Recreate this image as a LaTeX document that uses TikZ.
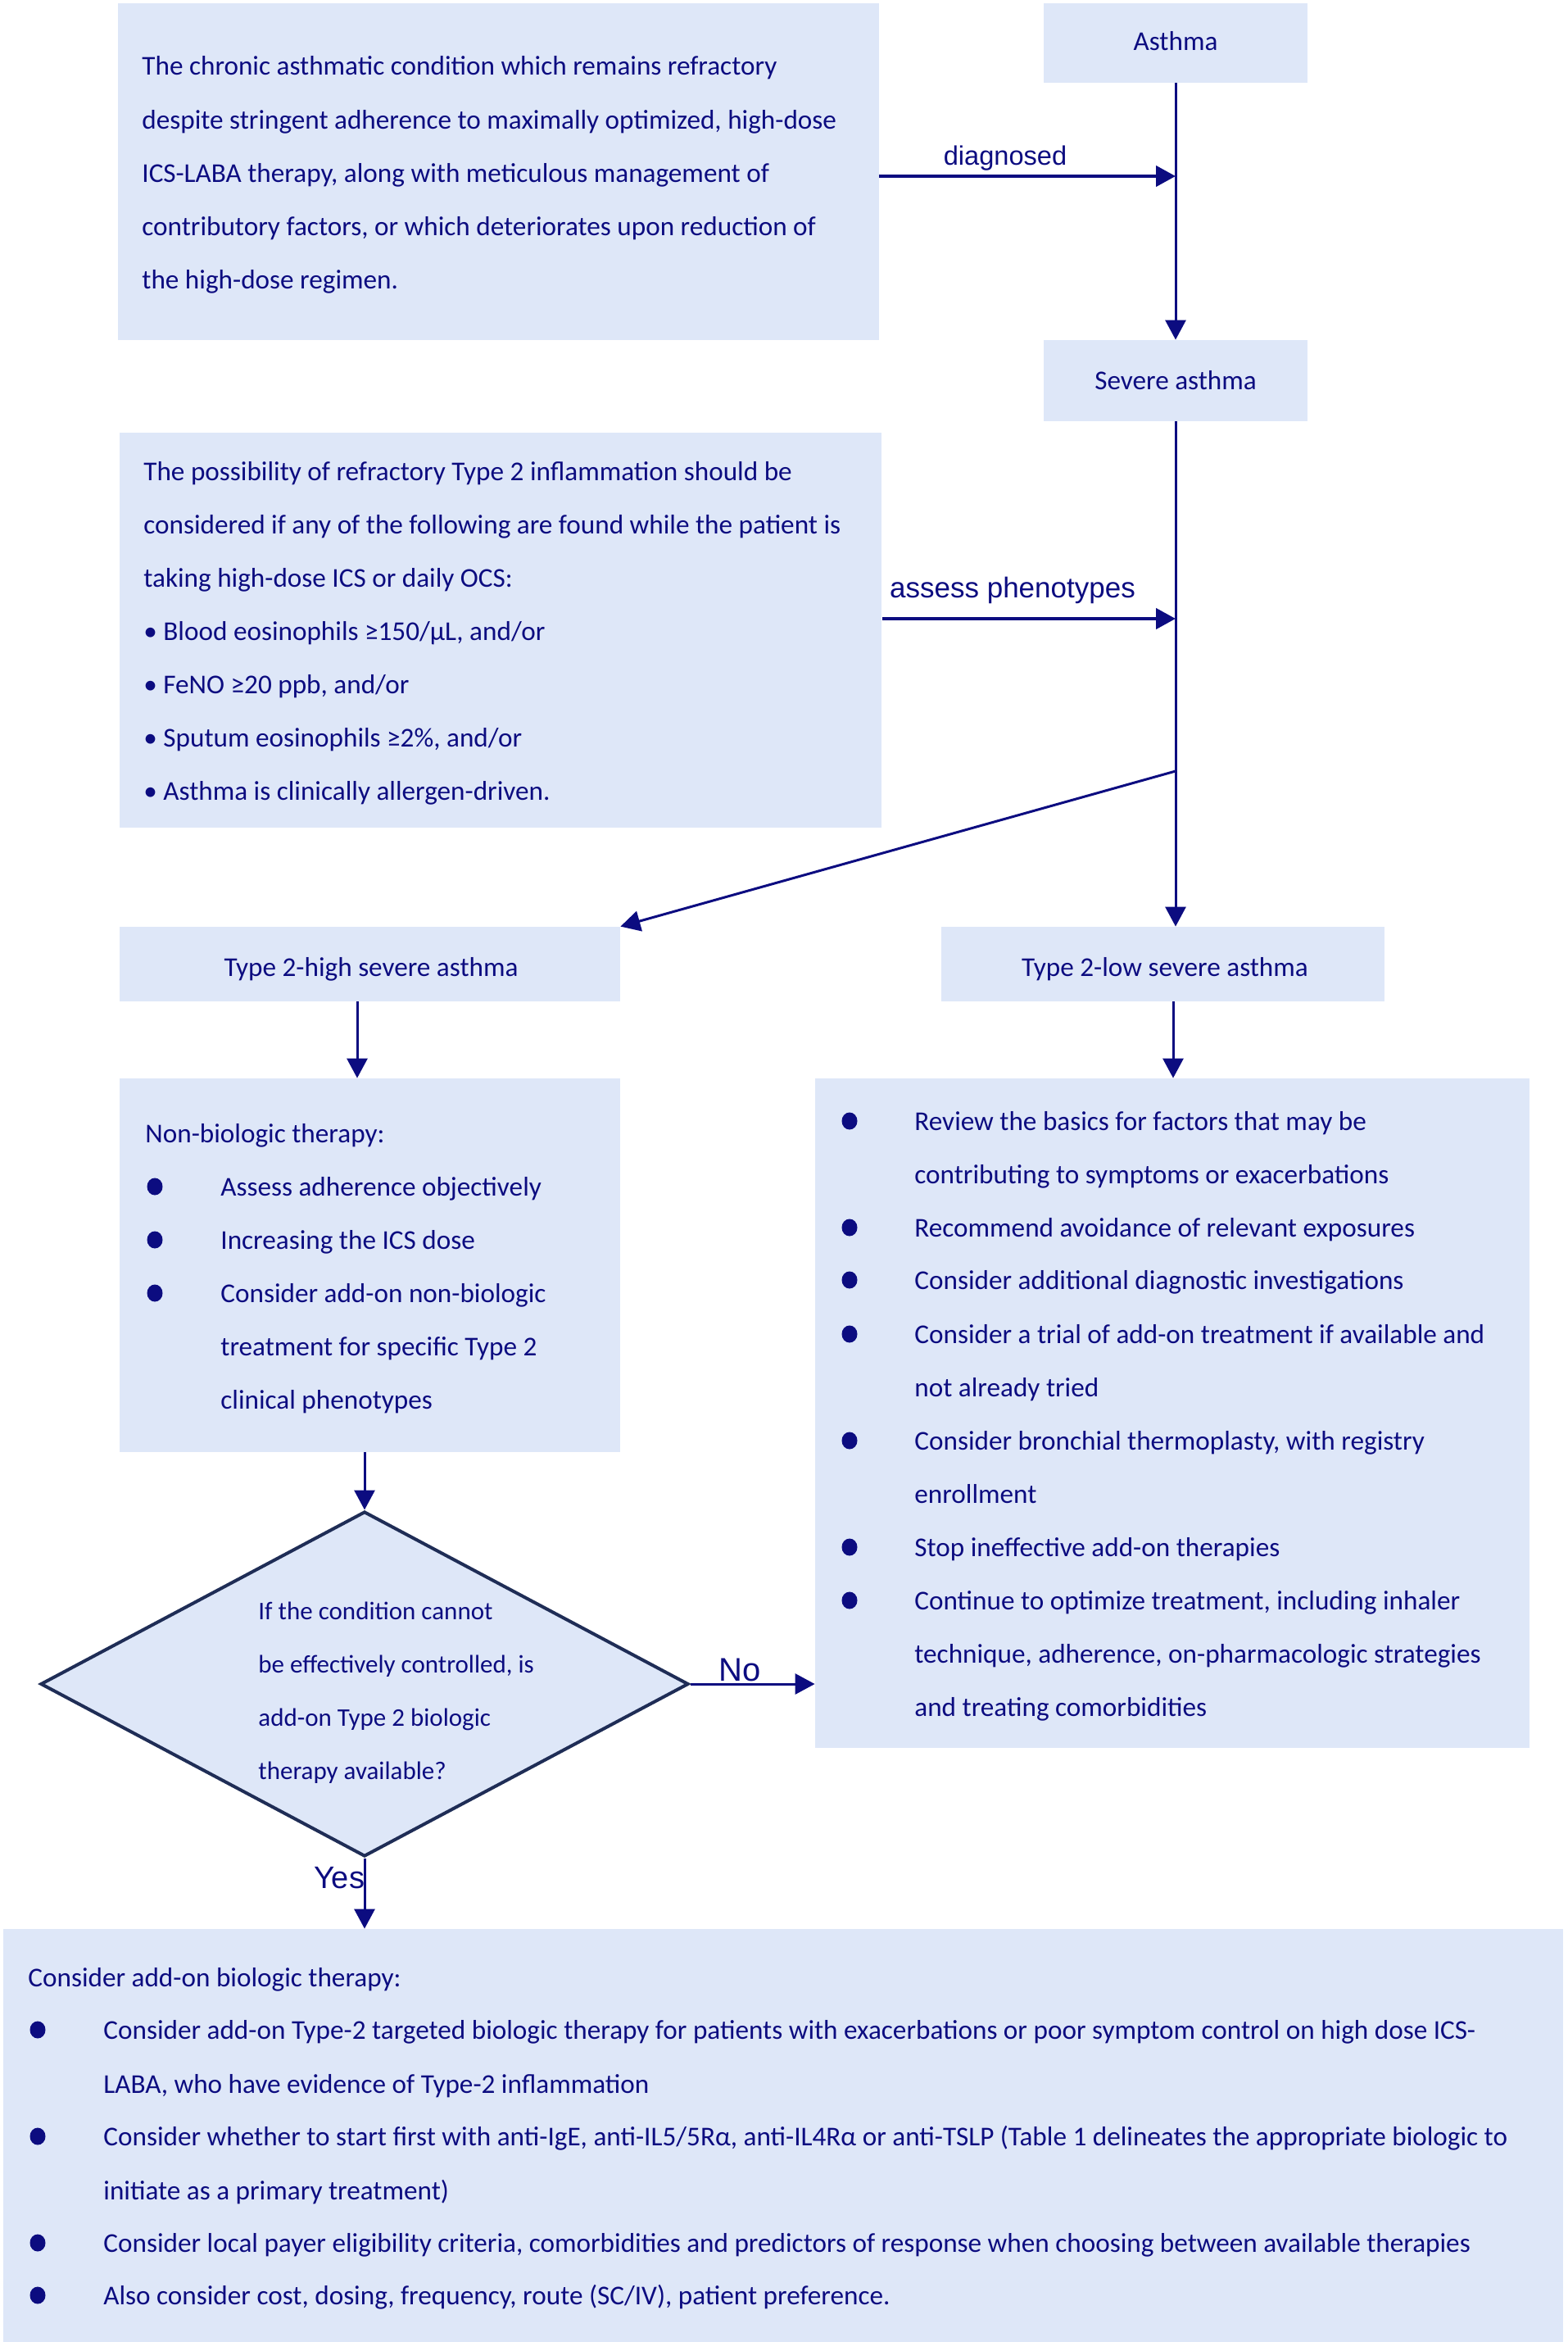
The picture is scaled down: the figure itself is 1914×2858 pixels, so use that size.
\documentclass[tikz,border=0pt]{standalone}
\usepackage{fontspec}
\setmainfont{Carlito}
\newfontfamily\lblfont{Liberation Sans}
\usetikzlibrary{arrows.meta,shapes.geometric}
\definecolor{dnavy}{RGB}{12,12,128}
\definecolor{boxfill}{RGB}{222,231,248}
\definecolor{diaedge}{RGB}{31,45,86}
\begin{document}
\begin{tikzpicture}[x=0.5pt,y=-0.5pt,
  box/.style={rectangle, fill=boxfill, draw=none, inner sep=0pt},
  txt/.style={anchor=mid west, inner sep=0pt, yshift=-3.5pt, text=dnavy, font=\fontsize{16.6}{20}\selectfont},
  dtxt/.style={anchor=mid west, inner sep=0pt, yshift=-3.5pt, text=dnavy, font=\fontsize{15.5}{19}\selectfont},
  ctxt/.style={anchor=mid, inner sep=0pt, yshift=-3.5pt, text=dnavy, font=\fontsize{16.6}{20}\selectfont},
  lbl/.style={anchor=mid, inner sep=0pt, yshift=-3.5pt, text=dnavy},
  conn/.style={draw=dnavy, line width=1.5pt, -{Triangle[length=12pt,width=12.5pt]}},
  bconn/.style={conn, line width=2.2pt},
  dot/.style={ellipse, fill=dnavy, inner sep=0pt, minimum width=9.5pt, minimum height=10.5pt},
]
\useasboundingbox (0,0) rectangle (1914,2858);

% boxes
\node[box, minimum width=464.5pt, minimum height=205.5pt] (box1) at (608.5,209.5) {};
\node[box, minimum width=161pt, minimum height=48.5pt] (asthma) at (1435,52.5) {};
\node[box, minimum width=161pt, minimum height=49.5pt] (severe) at (1435,464.5) {};
\node[box, minimum width=465pt, minimum height=241pt] (box2) at (611,769) {};
\node[box, minimum width=305.5pt, minimum height=45.5pt] (high) at (451.5,1176.5) {};
\node[box, minimum width=270.5pt, minimum height=45.5pt] (low) at (1419.5,1176.5) {};
\node[box, minimum width=305.5pt, minimum height=228pt] (nonbio) at (451.5,1544) {};
\node[box, minimum width=436pt, minimum height=408.5pt] (right) at (1431,1724.5) {};
\node[diamond, fill=boxfill, draw=diaedge, line width=2pt, inner sep=0pt,
      minimum width=395.5pt, minimum height=210.5pt] (dia) at (445,2055) {};
\node[box, minimum width=952pt, minimum height=252pt] (bottom) at (956,2606) {};

% titles
\node[ctxt] (tasthma) at (1435,50) {Asthma};
\node[ctxt] (tsevere) at (1435,464) {Severe asthma};
\node[ctxt] (thigh) at (453,1180) {Type 2-high severe asthma};
\node[ctxt] (tlow) at (1422,1180) {Type 2-low severe asthma};

% box1 text
\foreach \yy/\tt [count=\i] in {80/{The chronic asthmatic condition which remains refractory},
  146/{despite stringent adherence to maximally optimized, high-dose},
  211/{ICS-LABA therapy, along with meticulous management of},
  276/{contributory factors, or which deteriorates upon reduction of},
  341/{the high-dose regimen.}}
  \node[txt, name=bxa\i] at (173,\yy) {\tt};

% box2 text
\foreach \yy/\tt [count=\i] in {575/{The possibility of refractory Type 2 inflammation should be},
  640/{considered if any of the following are found while the patient is},
  705/{taking high-dose ICS or daily OCS:},
  770/{• Blood eosinophils ≥150/μL, and/or},
  835/{• FeNO ≥20 ppb, and/or},
  900/{• Sputum eosinophils ≥2\%, and/or},
  965/{• Asthma is clinically allergen-driven.}}
  \node[txt, name=bxb\i] at (175,\yy) {\tt};

% non-biologic text
\node[txt] (nbh) at (177,1383) {Non-biologic therapy:};
\foreach \yy [count=\i] in {1448,1513,1578}
  \node[dot, name=nbd\i] at (189,\yy) {};
\foreach \yy/\tt [count=\i] in {1448/{Assess adherence objectively},
  1513/{Increasing the ICS dose},
  1578/{Consider add-on non-biologic},
  1643/{treatment for specific Type 2},
  1708/{clinical phenotypes}}
  \node[txt, name=nbt\i] at (269,\yy) {\tt};

% right box text
\foreach \yy [count=\i] in {1368,1498,1562,1628,1758,1888,1953}
  \node[dot, name=rd\i] at (1037,\yy) {};
\foreach \yy/\tt [count=\i] in {1368/{Review the basics for factors that may be},
  1433/{contributing to symptoms or exacerbations},
  1498/{Recommend avoidance of relevant exposures},
  1562/{Consider additional diagnostic investigations},
  1628/{Consider a trial of add-on treatment if available and},
  1693/{not already tried},
  1758/{Consider bronchial thermoplasty, with registry},
  1823/{enrollment},
  1888/{Stop ineffective add-on therapies},
  1953/{Continue to optimize treatment, including inhaler},
  2018/{technique, adherence, on-pharmacologic strategies},
  2083/{and treating comorbidities}}
  \node[txt, name=rt\i] at (1116,\yy) {\tt};

% diamond text
\foreach \yy/\tt [count=\i] in {1965/{If the condition cannot},
  2030/{be effectively controlled, is},
  2095/{add-on Type 2 biologic},
  2160/{therapy available?}}
  \node[dtxt, name=dt\i] at (315,\yy) {\tt};

% bottom text
\node[txt] (bh) at (34,2413) {Consider add-on biologic therapy:};
\foreach \yy [count=\i] in {2477,2607,2737,2801}
  \node[dot, name=bd\i] at (46,\yy) {};
\foreach \yy/\tt [count=\i] in {2477/{Consider add-on Type-2 targeted biologic therapy for patients with exacerbations or poor symptom control on high dose ICS-},
  2543/{LABA, who have evidence of Type-2 inflammation},
  2607/{Consider whether to start first with anti-IgE, anti-IL5/5Rα, anti-IL4Rα or anti-TSLP (Table 1 delineates the appropriate biologic to},
  2673/{initiate as a primary treatment)},
  2737/{Consider local payer eligibility criteria, comorbidities and predictors of response when choosing between available therapies},
  2801/{Also consider cost, dosing, frequency, route (SC/IV), patient preference.}}
  \node[txt, name=bt\i] at (126,\yy) {\tt};

% connectors
\coordinate (dg) at (1073,215);
\coordinate (as) at (1077,755);
\coordinate (br) at (1435,941);
\coordinate (hn) at (436,1222);
\coordinate (lr) at (1432,1222);

\draw[conn] (asthma.south) -- (severe.north);
\draw[bconn] (dg) -- (dg -| asthma.south);
\draw[conn] (severe.south) -- (severe.south |- low.north);
\draw[bconn] (as) -- (as -| severe.south);
\draw[conn] (br) -- (high.north east);
\draw[conn] (hn) -- (hn |- nonbio.north);
\draw[conn] (lr) -- (lr |- right.north);
\draw[conn] (dia.north |- nonbio.south) -- (dia.north);
\draw[conn] (dia.east) -- (dia.east -| right.west);
\draw[conn] (dia.south) -- (dia.south |- bottom.north);

% labels
\node[lbl, font=\lblfont\fontsize{16.3}{19}\selectfont] (ldiag) at (1227,190) {diagnosed};
\node[lbl, font=\lblfont\fontsize{17.5}{21}\selectfont] (lass) at (1236,718) {assess phenotypes};
\node[lbl, font=\lblfont\fontsize{20}{24}\selectfont] (lno) at (903,2040) {No};
\node[lbl, font=\lblfont\fontsize{19}{23}\selectfont] (lyes) at (414,2293) {Yes};
\end{tikzpicture}
\end{document}
